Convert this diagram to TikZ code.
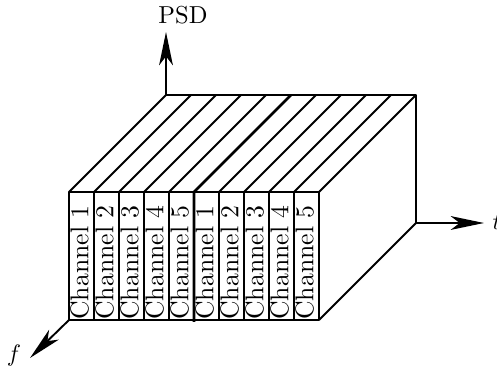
\documentclass[tikz,border=0pt]{standalone}
\usetikzlibrary{arrows.meta}
\begin{document}
\begin{tikzpicture}[x=0.42pt,y=-0.42pt,
  edge/.style={line width=0.75pt, line join=round},
  axis/.style={line width=0.8pt, -{Stealth[length=14pt,width=5.8pt,inset=3.8pt]}},
  chan/.style={rotate=90, inner sep=0pt, anchor=center, font=\fontsize{10.8}{13}\selectfont},
  lbl/.style={inner sep=0pt, anchor=center, font=\fontsize{10.3}{12}\selectfont}]
\useasboundingbox (0,0) rectangle (497,368);
% corners
\coordinate (FTL) at (69,192);
\coordinate (FTR) at (319,192);
\coordinate (FBL) at (69,320);
\coordinate (FBR) at (319,320);
\coordinate (BTL) at (166,95);
\coordinate (BTR) at (416,95);
\coordinate (BBR) at (416,223);
% axes
\coordinate (PSDtip) at (166,32);
\coordinate (ttip) at (484,223);
\coordinate (ftip) at (30,358);
\draw[axis] (BTL) -- (PSDtip);
\draw[axis] (BBR) -- (ttip);
\draw[axis] (FBL) -- (ftip);
\node[lbl] (psd) at (183,15.5) {PSD};
\node[lbl] (t) at (497,222) {$t$};
\node[lbl] (f) at (14,356) {$f$};
% box outline
\draw[edge] (FTL) rectangle (FBR);
\draw[edge] (BTL) -- (BTR) -- (BBR) -- (FBR);
% strips and top face lines
\foreach \i in {0,...,10} {
  \coordinate (s\i) at (69+25*\i,192);
  \coordinate (b\i) at (69+25*\i,320);
  \coordinate (u\i) at (166+25*\i,95);
}
\foreach \i in {1,2,3,4,6,7,8,9} {
  \draw[edge] (b\i) -- (s\i);
}
\foreach \i in {0,1,2,3,4,6,7,8,9,10} {
  \draw[edge] (s\i) -- (u\i);
}
\coordinate (b5low) at (194,322);
\draw[line width=1.1pt] (b5low) -- (s5) -- (u5);
% channel labels
\foreach \i/\n in {0/1,1/2,2/3,3/4,4/5,5/1,6/2,7/3,8/4,9/5} {
  \node[chan] (c\i) at (69+25*\i+10.5,262.5) {Channel \n};
}
\end{tikzpicture}
\end{document}
